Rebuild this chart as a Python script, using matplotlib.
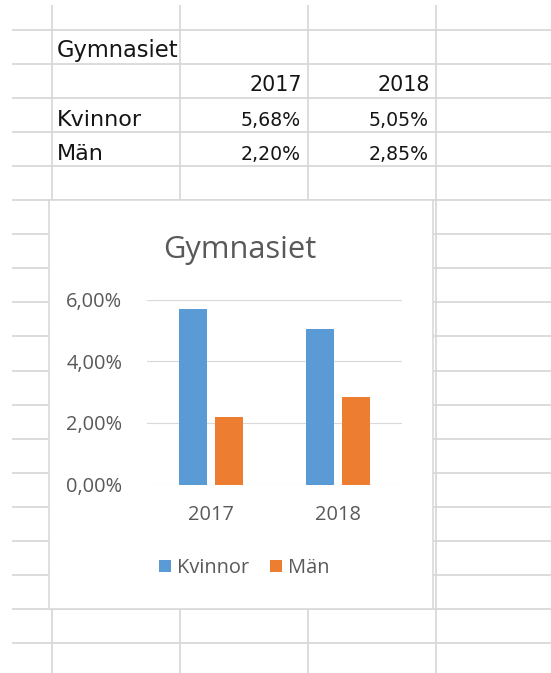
import matplotlib
matplotlib.use("Agg")
import matplotlib.pyplot as plt
from matplotlib.patches import Rectangle, Patch
from matplotlib.ticker import FuncFormatter, MultipleLocator

# data
years = ["2017", "2018"]
series_names = ["Kvinnor", "Män"]
kvinnor = [5.68, 5.05]   # percent
man = [2.20, 2.85]       # percent
table_title = "Gymnasiet"

# colors
BLUE = "#5B9BD5"
ORANGE = "#ED7D31"
SHEET_GRID = "#d6d6d6"
CHART_TXT = "#595959"
CELL_TXT = "#151515"

W, H = 551, 673
fig = plt.figure(figsize=(W / 100, H / 100), dpi=100)
fig.patch.set_facecolor("white")

# background axes in pixel coords (spreadsheet)
bg = fig.add_axes([0, 0, 1, 1])
bg.set_xlim(0, W)
bg.set_ylim(H, 0)
bg.axis("off")

row_y = [30 + 34.05 * i for i in range(19)]
col_x = [51.5, 179.7, 307.8, 436.0]
bg.hlines(row_y, 12, W, color=SHEET_GRID, lw=1.2, zorder=1)
bg.vlines(col_x, 5, H, color=SHEET_GRID, lw=1.2, zorder=1)

# cell texts
cell_font = "DejaVu Sans"
bg.text(57, row_y[1] - 7.5, table_title, ha="left", va="baseline",
        fontsize=16.3, family=cell_font, color=CELL_TXT, zorder=2)
for j, yr in enumerate(years):
    bg.text(col_x[j + 2] - 6, row_y[2] - 7, yr, ha="right", va="baseline",
            fontsize=14.9, family=cell_font, color=CELL_TXT, zorder=2)
for i, (name, vals) in enumerate(zip(series_names, [kvinnor, man])):
    yb = row_y[3 + i] - 6.5
    bg.text(57, yb, name, ha="left", va="baseline",
            fontsize=16.0, family=cell_font, color=CELL_TXT, zorder=2)
    for j, v in enumerate(vals):
        bg.text(col_x[j + 2] - 7, yb, f"{v:.2f}%".replace(".", ","),
                ha="right", va="baseline", fontsize=13.6,
                family=cell_font, color=CELL_TXT, zorder=2)

# chart area
bg.add_patch(Rectangle((49, 200), 384, 409, facecolor="white",
                       edgecolor="#d9d9d9", lw=1.2, zorder=3))
bg.text(240, 258.3, table_title, ha="center", va="baseline", fontsize=22.2,
        family="Open Sans", color=CHART_TXT, zorder=4)

# plot area
left, right, top, bottom = 147.3, 401.7, 299.5, 484.5
ax = fig.add_axes([left / W, 1 - bottom / H, (right - left) / W, (bottom - top) / H])
ax.set_facecolor("none")
x = range(len(years))
off, bw = 0.1415, 0.22
ax.bar([i - off for i in x], kvinnor, width=bw, color=BLUE, zorder=3, label=series_names[0])
ax.bar([i + off for i in x], man, width=bw, color=ORANGE, zorder=3, label=series_names[1])
ax.set_xlim(-0.5, 1.5)
ax.set_ylim(0, 6)
ax.yaxis.set_major_locator(MultipleLocator(2))
ax.yaxis.set_major_formatter(FuncFormatter(lambda v, p: f"{v:.2f}%".replace(".", ",")))
ax.set_xticks(list(x))
ax.set_xticklabels(years)
ax.grid(axis="y", color="#d9d9d9", lw=0.8, zorder=0)
for s in ax.spines.values():
    s.set_visible(False)
ax.tick_params(axis="y", length=0, pad=18, labelsize=14.4, labelcolor=CHART_TXT)
ax.tick_params(axis="x", length=0, pad=14.5, labelsize=14.4, labelcolor=CHART_TXT)
for lbl in ax.get_xticklabels() + ax.get_yticklabels():
    lbl.set_family("Open Sans")

handles = [Patch(facecolor=BLUE), Patch(facecolor=ORANGE)]
leg = fig.legend(handles, series_names, loc="center", ncol=2, frameon=False,
                 bbox_to_anchor=(244 / W, 1 - 568 / H),
                 prop={"family": "Open Sans", "size": 14.4},
                 handlelength=0.6, handleheight=0.55, handletextpad=0.3,
                 columnspacing=1.05, borderpad=0)
for t in leg.get_texts():
    t.set_color(CHART_TXT)

fig.savefig("out.png", dpi=100)
